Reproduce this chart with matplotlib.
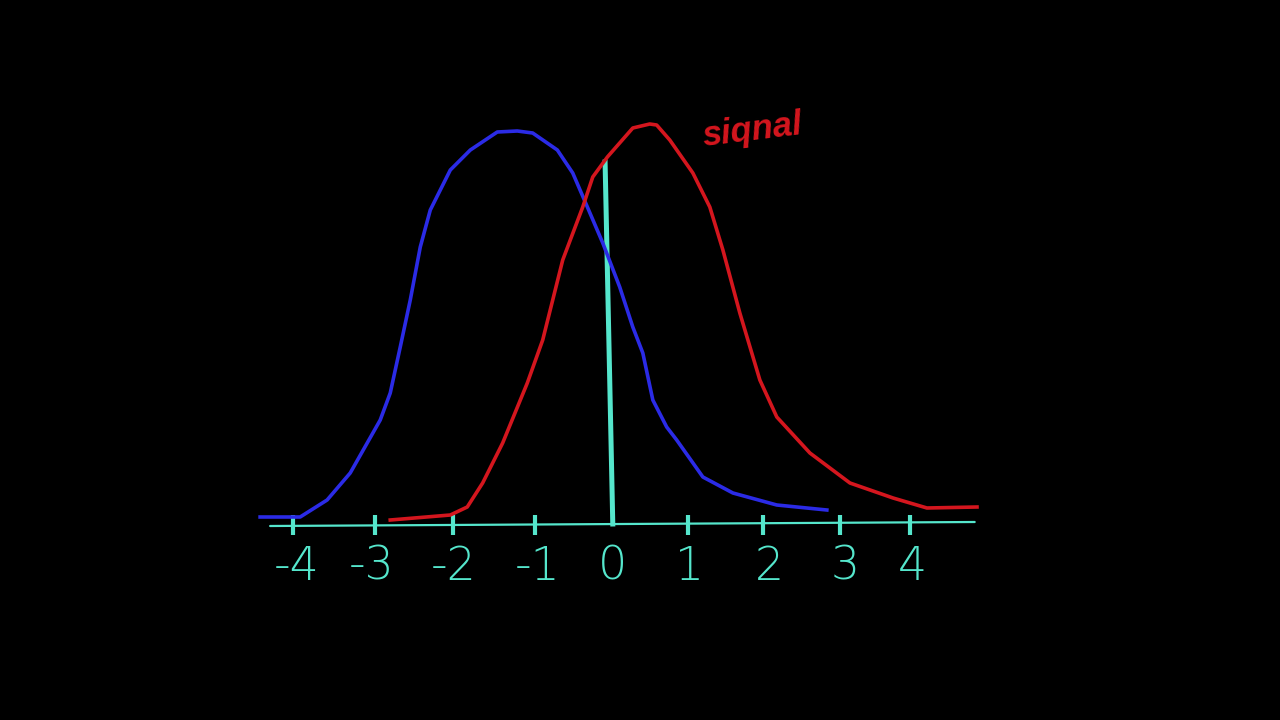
import numpy as np
import matplotlib.pyplot as plt

# blue curve (noise)
blue_x = [-4.57, -4.05, -3.70, -3.40, -3.01, -2.88, -2.75, -2.62, -2.49, -2.36, -2.10, -1.84,
          -1.49, -1.23, -1.03, -0.71, -0.51, -0.32, -0.12, 0.10, 0.27, 0.40, 0.53, 0.71,
          0.84, 1.18, 1.57, 2.14, 2.79]
blue_y = [0.007, 0.007, 0.024, 0.051, 0.104, 0.131, 0.177, 0.224, 0.277, 0.314, 0.354, 0.374,
          0.392, 0.393, 0.391, 0.374, 0.351, 0.317, 0.281, 0.237, 0.197, 0.171, 0.124, 0.097,
          0.084, 0.047, 0.031, 0.019, 0.014]

# red curve (signal)
red_x = [-2.88, -2.10, -1.88, -1.68, -1.42, -1.10, -0.90, -0.64, -0.38, -0.25, -0.06, 0.27,
         0.49, 0.58, 0.75, 1.05, 1.27, 1.44, 1.66, 1.92, 2.14, 2.57, 3.09, 3.65, 4.09, 4.74]
red_y = [0.004, 0.009, 0.017, 0.041, 0.081, 0.141, 0.184, 0.264, 0.317, 0.347, 0.367, 0.396,
         0.400, 0.399, 0.384, 0.351, 0.317, 0.274, 0.211, 0.144, 0.107, 0.071, 0.041, 0.026,
         0.016, 0.017]

# hand drawn axis, ticks and labels
axis_x = [-4.44, 4.71]
axis_y = [-0.002, 0.002]
tick_pos = [-4.14, -3.08, -2.06, -1.00, 0.99, 1.96, 2.96, 3.87]
label_pos = [-4.09, -3.12, -2.06, -0.97, 0.0, 1.01, 2.05, 3.03, 3.90]
labels = ['-4', '-3', '-2', '-1', '0', '1', '2', '3', '4']
crit_x = [-0.09, 0.01]
crit_y = [0.362, 0.0]

cyan = '#55e6cc'
red = '#d4161e'

fig = plt.figure(figsize=(12.8, 7.2), dpi=100, facecolor='black')
ax = fig.add_axes([0, 0, 1, 1])
ax.set_facecolor('black')
ax.set_xlim(-7.948, 8.675)
ax.set_ylim(-0.196, 0.524)
ax.axis('off')

ax.plot(axis_x, axis_y, color=cyan, lw=1.6, solid_capstyle='round')
ax.vlines(tick_pos, -0.011, 0.009, color=cyan, lw=3)
ax.plot(crit_x, crit_y, color=cyan, lw=3.6)

ax.plot(blue_x, blue_y, color='#2b2be6', lw=2.6, solid_joinstyle='round')
ax.plot(red_x, red_y, color=red, lw=2.6, solid_joinstyle='round')

for p, t in zip(label_pos, labels):
    ax.text(p, -0.043, t, color=cyan, fontsize=33, ha='center', va='center',
            fontweight='light')

ax.text(1.82, 0.394, 'siqnal', color=red, fontsize=25, fontweight='bold',
        fontstyle='italic', rotation=7, ha='center', va='center', family='Liberation Sans')

fig.savefig('out.png', dpi=100, facecolor='black')
